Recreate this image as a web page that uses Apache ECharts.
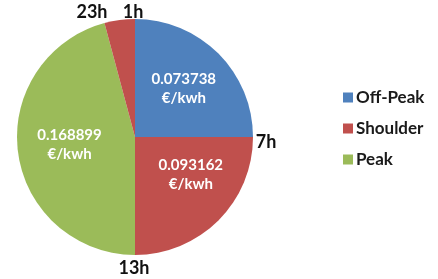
<!DOCTYPE html>
<html>
<head>
<meta charset="utf-8">
<script src="https://cdn.jsdelivr.net/npm/echarts@6/dist/echarts.min.js"></script>
<style>
  html, body { margin: 0; padding: 0; background: #fff; }
  #main { width: 438px; height: 279px; }
</style>
</head>
<body>
<div id="main"></div>
<script type="text/javascript">
    // tariff periods, clockwise from the top of the clock (slice sizes as drawn)
    var periods = ['Off-Peak', 'Shoulder', 'Peak', 'Shoulder'];
    var hours = [6, 6, 11, 1];
    var prices = [0.073738, 0.093162, 0.168899, null];
    var colors = ['#4F81BD', '#C0504D', '#9BBB59', '#C0504D'];
    var legendNames = ['Off-Peak', 'Shoulder', 'Peak'];

    // boundary labels around the clock
    var hourLabels = ['1h', '7h', '13h', '23h'];
    var hourPos = [[133, 12], [266, 142], [134, 268], [92, 12]];

    // nudges for the price labels
    var labelShift = [[5, -5], [12, -6], [-4, 0], [0, 0]];

    var data = periods.map(function (name, i) {
        return {
            name: name,
            value: hours[i],
            itemStyle: {color: colors[i]},
            label: {show: prices[i] !== null}
        };
    });

    var myChart = echarts.init(document.getElementById('main'));
    myChart.setOption({
        animation: false,
        textStyle: {fontFamily: 'Lato'},
        legend: {
            orient: 'vertical',
            left: 338,
            top: 84,
            data: legendNames,
            icon: 'rect',
            itemWidth: 10,
            itemHeight: 10,
            itemGap: 14,
            selectedMode: false,
            textStyle: {fontSize: 17, fontWeight: 'bold', color: '#1a1a1a', fontFamily: 'Lato', padding: [0, 0, 0, -2]}
        },
        graphic: hourLabels.map(function (t, i) {
            return {
                type: 'text',
                x: hourPos[i][0],
                y: hourPos[i][1],
                style: {
                    text: t,
                    fill: '#111',
                    font: 'bold 18px Lato',
                    textAlign: 'center',
                    textVerticalAlign: 'middle'
                }
            };
        }),
        series: [{
            type: 'pie',
            center: [135, 137],
            radius: 118,
            startAngle: 90,
            clockwise: true,
            silent: true,
            data: data,
            label: {
                position: 'inside',
                color: '#fff',
                fontSize: 15,
                fontWeight: 'bold',
                fontFamily: 'Lato',
                lineHeight: 19,
                formatter: function (p) {
                    var v = prices[p.dataIndex];
                    return v === null ? '' : v.toFixed(6) + '\n€/kwh';
                }
            },
            labelLine: {show: false},
            labelLayout: function (p) {
                return {dx: labelShift[p.dataIndex][0], dy: labelShift[p.dataIndex][1]};
            }
        }]
    });
</script>
</body>
</html>
